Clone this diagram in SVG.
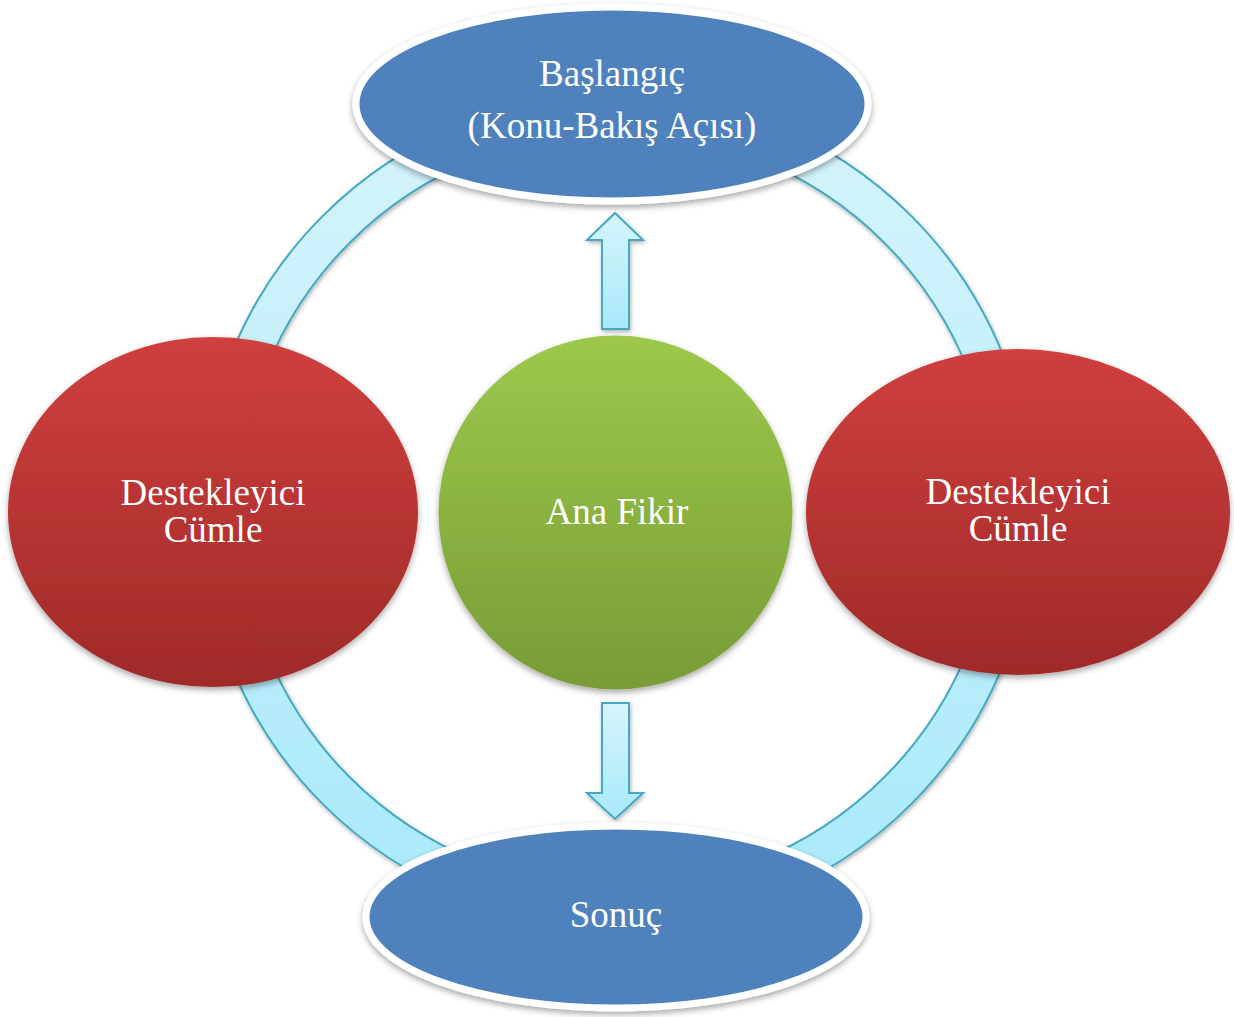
<svg xmlns="http://www.w3.org/2000/svg" width="1234" height="1017" viewBox="0 0 1234 1017">
  <defs>
    <linearGradient id="gRed" x1="0" y1="0" x2="0" y2="1">
      <stop offset="0" stop-color="#d03f3f"/>
      <stop offset="1" stop-color="#9f2a28"/>
    </linearGradient>
    <linearGradient id="gGreen" x1="0" y1="0" x2="0" y2="1">
      <stop offset="0" stop-color="#9dc84b"/>
      <stop offset="1" stop-color="#789c37"/>
    </linearGradient>
    <linearGradient id="gCyan" x1="0" y1="0" x2="0" y2="1">
      <stop offset="0" stop-color="#d6f4fb"/>
      <stop offset="1" stop-color="#a9e9fa"/>
    </linearGradient>
    <filter id="shadow" x="-10%" y="-10%" width="120%" height="125%">
      <feDropShadow dx="0" dy="3" stdDeviation="3" flood-color="#000" flood-opacity="0.35"/>
    </filter>
    <filter id="softShadow" x="-10%" y="-10%" width="120%" height="120%">
      <feDropShadow dx="1" dy="2" stdDeviation="2" flood-color="#000" flood-opacity="0.3"/>
    </filter>
  </defs>
  <style>
    .lbl { font-family: "Liberation Serif", "Times New Roman", serif; font-size: 37px; fill: #ffffff; text-anchor: middle; }
    .cy { fill: url(#gCyan); stroke: #45a9c3; stroke-width: 2; }
    .red { fill: url(#gRed); filter: url(#shadow); }
    .blue { fill: #4f81bd; stroke: #ffffff; stroke-width: 7; filter: url(#shadow); }
  </style>

  <g id="connectors">
    <path id="ring" class="cy" fill-rule="evenodd" filter="url(#softShadow)" d="M201,510 A416,416 0 1 0 1033,510 A416,416 0 1 0 201,510 Z M239,510 A378,378 0 1 1 995,510 A378,378 0 1 1 239,510 Z"/>
    <path id="arrow-up" class="cy" filter="url(#softShadow)" d="M615,213 L643,240 L629,240 L629,329 L602,329 L602,240 L587,240 Z"/>
    <path id="arrow-down" class="cy" filter="url(#softShadow)" d="M602,703 L629,703 L629,793 L643,793 L615,819 L587,793 L602,793 Z"/>
  </g>

  <g id="node-ana-fikir">
    <circle cx="615.5" cy="512.5" r="177" fill="url(#gGreen)" filter="url(#shadow)"/>
    <text class="lbl" x="617" y="524">Ana Fikir</text>
  </g>

  <g id="node-destekleyici-sol">
    <ellipse class="red" cx="213" cy="512" rx="205" ry="175"/>
    <text class="lbl" x="213" y="505">Destekleyici</text>
    <text class="lbl" x="213" y="542">Cümle</text>
  </g>

  <g id="node-destekleyici-sag">
    <ellipse class="red" cx="1018" cy="512" rx="212" ry="163"/>
    <text class="lbl" x="1018" y="504">Destekleyici</text>
    <text class="lbl" x="1018" y="541">Cümle</text>
  </g>

  <g id="node-baslangic">
    <ellipse class="blue" cx="612" cy="104" rx="256" ry="97"/>
    <text class="lbl" x="612" y="86">Başlangıç</text>
    <text class="lbl" x="612" y="138">(Konu-Bakış Açısı)</text>
  </g>

  <g id="node-sonuc">
    <ellipse class="blue" cx="616" cy="917" rx="250" ry="91"/>
    <text class="lbl" x="616" y="927">Sonuç</text>
  </g>
</svg>
